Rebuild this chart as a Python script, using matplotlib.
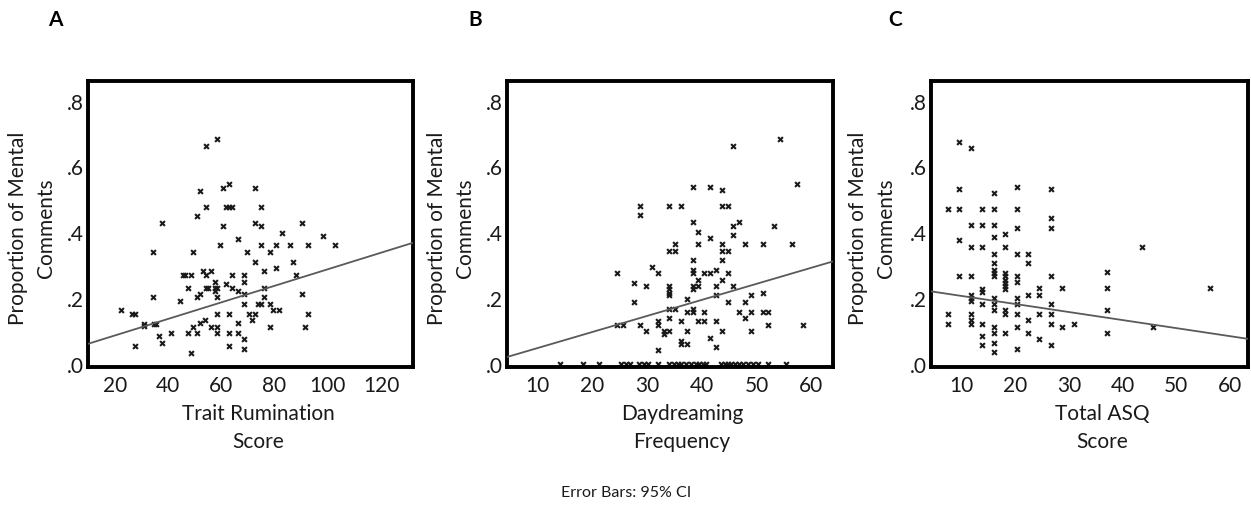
import numpy as np
import matplotlib
matplotlib.use("Agg")
import matplotlib.pyplot as plt
from matplotlib.ticker import FuncFormatter

plt.rcParams['font.family'] = ['Lato', 'DejaVu Sans']

# Panel A: trait rumination vs proportion of mental comments
rum_x = [22.3, 26.7, 27.7, 31.1, 31.1, 34.6, 35.6, 27.7, 36.6, 37.7,
         34.4, 34.4, 37.7, 41.1, 44.4, 45.5, 46.5, 48.7, 47.5, 47.5,
         48.7, 49.6, 50.9, 49.6, 50.9, 51.9, 54.2, 54.2, 53.0, 54.2,
         52.1, 50.9, 54.2, 55.2, 52.1, 53.9, 56.3, 56.3, 57.5, 57.5,
         58.6, 57.5, 58.6, 58.6, 58.6, 58.6, 58.6, 59.6, 60.7, 60.7,
         61.8, 62.9, 61.8, 62.9, 63.9, 63.9, 63.9, 62.9, 62.9, 62.9,
         66.2, 66.2, 66.2, 66.2, 68.5, 68.5, 68.5, 68.5, 68.5, 68.5,
         69.6, 70.6, 71.7, 72.8, 72.8, 72.8, 72.8, 74.0, 75.0, 75.0,
         75.0, 75.0, 76.2, 76.2, 76.2, 78.3, 78.3, 78.3, 79.3, 80.5,
         80.5, 81.6, 82.7, 85.9, 87.1, 88.1, 90.5, 90.5, 91.6, 92.7,
         92.7, 98.1, 102.6]
rum_y = [0.162, 0.152, 0.152, 0.122, 0.114, 0.122, 0.122, 0.054, 0.084, 0.064,
         0.202, 0.339, 0.427, 0.093, 0.191, 0.270, 0.270, 0.270, 0.231, 0.093,
         0.034, 0.113, 0.093, 0.339, 0.448, 0.526, 0.663, 0.476, 0.281, 0.270,
         0.212, 0.202, 0.231, 0.231, 0.124, 0.134, 0.281, 0.113, 0.250, 0.231,
         0.231, 0.221, 0.202, 0.152, 0.113, 0.093, 0.684, 0.360, 0.536, 0.418,
         0.241, 0.546, 0.476, 0.476, 0.476, 0.270, 0.231, 0.152, 0.093, 0.054,
         0.378, 0.221, 0.124, 0.093, 0.270, 0.250, 0.212, 0.181, 0.074, 0.045,
         0.339, 0.152, 0.133, 0.536, 0.427, 0.310, 0.152, 0.181, 0.181, 0.476,
         0.418, 0.360, 0.281, 0.231, 0.202, 0.339, 0.181, 0.113, 0.162, 0.360,
         0.290, 0.162, 0.398, 0.360, 0.310, 0.270, 0.427, 0.212, 0.113, 0.360,
         0.152, 0.388, 0.360]

# Panel B: daydreaming frequency
dd_x = [24.6, 24.6, 25.6, 27.7, 27.7, 28.8, 28.8, 28.8, 29.9, 29.9,
        30.9, 32.0, 32.0, 32.0, 32.0, 33.1, 33.1, 34.1, 34.1, 35.2,
        34.1, 34.1, 34.1, 34.1, 34.1, 35.2, 34.1, 34.1, 35.2, 36.3,
        36.3, 36.3, 36.3, 37.3, 37.3, 37.3, 37.3, 38.4, 38.4, 38.4,
        38.4, 38.4, 38.4, 38.4, 38.4, 38.4, 39.4, 39.4, 39.4, 39.4,
        39.4, 40.5, 40.5, 40.5, 41.6, 41.6, 41.6, 41.6, 42.7, 42.7,
        42.7, 42.7, 42.7, 43.7, 43.7, 44.8, 43.7, 43.7, 44.8, 43.7,
        43.7, 43.7, 44.8, 44.8, 45.8, 45.8, 45.8, 45.8, 46.9, 46.9,
        48.0, 48.0, 48.0, 49.0, 49.0, 49.0, 51.2, 51.2, 51.2, 52.2,
        52.2, 53.3, 54.3, 56.5, 57.5, 58.6]
dd_y = [0.275, 0.118, 0.118, 0.246, 0.187, 0.479, 0.451, 0.118, 0.236, 0.099,
        0.295, 0.275, 0.129, 0.118, 0.041, 0.099, 0.089, 0.479, 0.344, 0.344,
        0.236, 0.226, 0.216, 0.208, 0.167, 0.167, 0.139, 0.099, 0.363, 0.479,
        0.129, 0.070, 0.060, 0.197, 0.157, 0.099, 0.060, 0.539, 0.430, 0.314,
        0.285, 0.276, 0.236, 0.226, 0.167, 0.157, 0.402, 0.363, 0.255, 0.236,
        0.129, 0.275, 0.157, 0.129, 0.539, 0.382, 0.275, 0.079, 0.285, 0.236,
        0.208, 0.129, 0.051, 0.529, 0.479, 0.479, 0.363, 0.344, 0.344, 0.314,
        0.255, 0.099, 0.275, 0.187, 0.663, 0.420, 0.392, 0.236, 0.430, 0.157,
        0.363, 0.187, 0.139, 0.208, 0.157, 0.099, 0.363, 0.216, 0.157, 0.157,
        0.118, 0.420, 0.684, 0.363, 0.547, 0.118]
dd_zero_x = [14.0, 18.3, 21.3, 25.3, 26.2, 26.9, 28.6, 29.5, 30.2, 32.0,
             34.1, 35.0, 35.6, 36.2, 37.2, 38.1, 38.9, 39.5, 40.2, 40.8,
             43.6, 44.2, 44.8, 45.4, 46.0, 46.8, 47.5, 48.4, 49.3, 50.3,
             52.1, 55.4]

# Panel C: total ASQ score
asq_x = [7.5, 7.5, 7.5, 9.6, 9.6, 9.6, 9.6, 9.6, 11.8, 11.8,
         11.8, 11.8, 11.8, 11.8, 11.8, 11.8, 11.8, 11.8, 13.9, 13.9,
         13.9, 13.9, 13.9, 13.9, 13.9, 13.9, 13.9, 16.0, 16.0, 16.0,
         16.0, 16.0, 16.0, 16.0, 16.0, 16.0, 16.0, 16.0, 16.0, 16.0,
         16.0, 16.0, 16.0, 18.1, 18.1, 18.1, 18.1, 18.1, 18.1, 18.1,
         18.1, 18.1, 18.1, 18.1, 20.3, 20.3, 20.3, 20.3, 20.3, 20.3,
         20.3, 20.3, 20.3, 20.3, 20.3, 22.4, 22.4, 22.4, 22.4, 22.4,
         24.5, 24.5, 24.5, 24.5, 26.6, 26.6, 26.6, 26.6, 26.6, 26.6,
         26.6, 26.6, 28.7, 28.7, 30.9, 37.2, 37.2, 37.2, 37.2, 43.6,
         45.6, 56.3]
asq_y = [0.471, 0.152, 0.122, 0.673, 0.530, 0.471, 0.375, 0.268, 0.655, 0.422,
         0.354, 0.268, 0.210, 0.200, 0.190, 0.152, 0.132, 0.122, 0.471, 0.422,
         0.354, 0.228, 0.218, 0.182, 0.122, 0.084, 0.056, 0.520, 0.471, 0.422,
         0.385, 0.334, 0.306, 0.286, 0.276, 0.268, 0.200, 0.182, 0.162, 0.113,
         0.093, 0.064, 0.035, 0.394, 0.354, 0.276, 0.266, 0.256, 0.246, 0.236,
         0.226, 0.162, 0.152, 0.093, 0.538, 0.471, 0.412, 0.334, 0.268, 0.248,
         0.200, 0.182, 0.152, 0.113, 0.046, 0.334, 0.306, 0.210, 0.132, 0.093,
         0.230, 0.210, 0.152, 0.074, 0.530, 0.443, 0.414, 0.268, 0.182, 0.152,
         0.122, 0.056, 0.230, 0.113, 0.122, 0.278, 0.230, 0.162, 0.093, 0.354,
         0.113, 0.230]

# fit lines (intercept, slope) as shown in the figure
fits = {"A": (0.0353, 0.00252), "B": (-0.0011, 0.00488), "C": (0.2306, -0.002445)}

panels = [
    ("A", rum_x, rum_y, [], (10, 132), [20, 40, 60, 80, 100, 120], "Trait Rumination\nScore"),
    ("B", dd_x, dd_y, dd_zero_x, (4.4, 64), [10, 20, 30, 40, 50, 60], "Daydreaming\nFrequency"),
    ("C", asq_x, asq_y, [], (4.3, 63.4), [10, 20, 30, 40, 50, 60], "Total ASQ\nScore"),
]
# axes boxes in pixels: left, right
boxes = [(88, 413), (507, 833), (931, 1248)]
letter_x = [55, 475, 895]
ylab_off = [-0.172, -0.172, -0.185]
xlab_off = [0.523, 0.537, 0.54]

W, H = 1251, 506
fig = plt.figure(figsize=(W / 100, H / 100), dpi=100)
top, bottom = 82, 368

fmt = FuncFormatter(lambda v, p: ("%.1f" % v).lstrip("0") if v >= 0 else "%.1f" % v)

for i, (name, xs, ys, zx, xlim, xt, xlabel) in enumerate(panels):
    l, r = boxes[i]
    ax = fig.add_axes([l / W, (H - bottom) / H, (r - l) / W, (bottom - top) / H])
    ax.scatter(xs, ys, marker='x', s=12, linewidths=1.5, color='#1a1a1a', zorder=2)
    if zx:
        ax.scatter(zx, np.zeros(len(zx)), marker='x', s=12, linewidths=1.5,
                   color='#1a1a1a', zorder=2)
    b0, b1 = fits[name]
    lx = np.array(xlim)
    ax.plot(lx, b0 + b1 * lx, color='#5a5a5a', lw=1.3, zorder=3)
    ax.set_xlim(*xlim)
    ax.set_ylim(-0.01, 0.86)
    ax.set_xticks(xt)
    ax.set_yticks([0, 0.2, 0.4, 0.6, 0.8])
    ax.yaxis.set_major_formatter(fmt)
    ax.tick_params(length=0, labelsize=15, colors='#1a1a1a', pad=3)
    ax.tick_params(axis='x', pad=6)
    for s in ax.spines.values():
        s.set_linewidth(2.8)
        s.set_color('black')
    ax.text(ylab_off[i], 0.49, "Proportion of Mental\nComments", rotation=90,
            transform=ax.transAxes, ha='center', va='center', fontsize=15,
            linespacing=1.5, color='#1a1a1a')
    ax.text(xlab_off[i], -0.21, xlabel, transform=ax.transAxes, ha='center',
            va='center', fontsize=15, linespacing=1.5, color='#1a1a1a')
    fig.text(letter_x[i] / W, 1 - 20 / H, name, ha='center', va='center',
             fontsize=15, fontweight='bold')

fig.text(626 / W, 1 - 493 / H, "Error Bars: 95% CI", ha='center', va='center',
         fontsize=11.5, color='#1a1a1a')

fig.savefig("out.png", dpi=100)
